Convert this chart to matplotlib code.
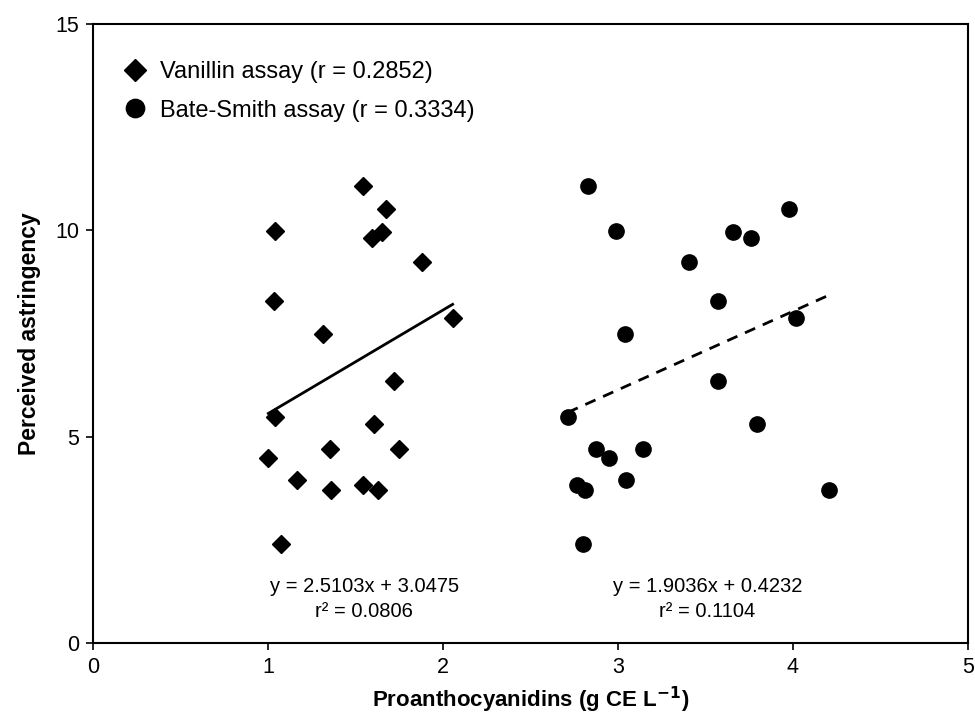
import numpy as np
import matplotlib
matplotlib.use("Agg")
import matplotlib.pyplot as plt

plt.rcParams["font.family"] = ["Liberation Sans", "DejaVu Sans"]

# Perceived astringency (shared by both assays, same wines)
astringency = [11.07, 10.51, 9.99, 9.96, 9.81, 9.23, 8.29, 7.87, 7.49, 6.35,
               5.48, 5.31, 4.69, 4.69, 4.48, 3.96, 3.83, 3.71, 3.71, 2.41]

# Proanthocyanidins by vanillin assay
vanillin_pa = [1.545, 1.672, 1.04, 1.65, 1.592, 1.878, 1.036, 2.055, 1.312, 1.72,
               1.04, 1.606, 1.354, 1.747, 1.002, 1.166, 1.541, 1.362, 1.63, 1.076]

# Proanthocyanidins by Bate-Smith assay
batesmith_pa = [2.827, 3.979, 2.99, 3.659, 3.758, 3.406, 3.57, 4.017, 3.04, 3.57,
                2.712, 3.792, 2.874, 3.145, 2.949, 3.046, 2.764, 2.811, 4.206, 2.802]

# Regression fits (slope, intercept)
vanillin_fit = (2.5103, 3.0475)
batesmith_fit = (1.9036, 0.4232)
vanillin_r2 = 0.0806
batesmith_r2 = 0.1104

fig = plt.figure(figsize=(9.75, 7.18), dpi=100)
ax = fig.add_axes([0.0954, 0.1045, 0.8974, 0.8621])

ax.plot(vanillin_pa, astringency, linestyle="none", marker="D", ms=9,
        color="black", label="Vanillin assay (r = 0.2852)")
ax.plot(batesmith_pa, astringency, linestyle="none", marker="o", ms=11,
        color="black", label="Bate-Smith assay (r = 0.3334)")

# trend lines
xv = np.array([min(vanillin_pa), max(vanillin_pa)])
ax.plot(xv, vanillin_fit[0] * xv + vanillin_fit[1], color="black", lw=2)
xb = np.array([min(batesmith_pa), max(batesmith_pa)])
ax.plot(xb, batesmith_fit[0] * xb + batesmith_fit[1], color="black", lw=2,
        linestyle=(0, (4, 3)))

# equations
ax.text(1.55, 1.37, "y = %.4fx + %.4f" % vanillin_fit, ha="center", va="center",
        fontsize=14.5)
ax.text(1.55, 0.77, "r² = %.4f" % vanillin_r2, ha="center", va="center", fontsize=14.5)
ax.text(3.51, 1.37, "y = %.4fx + %.4f" % batesmith_fit, ha="center", va="center",
        fontsize=14.5)
ax.text(3.51, 0.77, "r² = %.4f" % batesmith_r2, ha="center", va="center", fontsize=14.5)

ax.set_xlim(0, 5)
ax.set_ylim(0, 15)
ax.set_xticks([0, 1, 2, 3, 4, 5])
ax.set_yticks([0, 5, 10, 15])
ax.tick_params(direction="out", length=5, width=1.2, labelsize=15.5, pad=5)
for s in ax.spines.values():
    s.set_linewidth(1.5)

ax.set_xlabel("Proanthocyanidins (g CE L$^{\\mathbf{-1}}$)", fontsize=16,
              fontweight="bold", labelpad=5)
ax.set_ylabel("Perceived astringency", fontsize=16.5, fontweight="bold", labelpad=10)

ax.legend(loc="upper left", frameon=False, fontsize=17, handletextpad=0.85,
          borderaxespad=1.17, labelspacing=0.7, handlelength=0.42, markerscale=1.2)

fig.savefig("out.png", dpi=100)
